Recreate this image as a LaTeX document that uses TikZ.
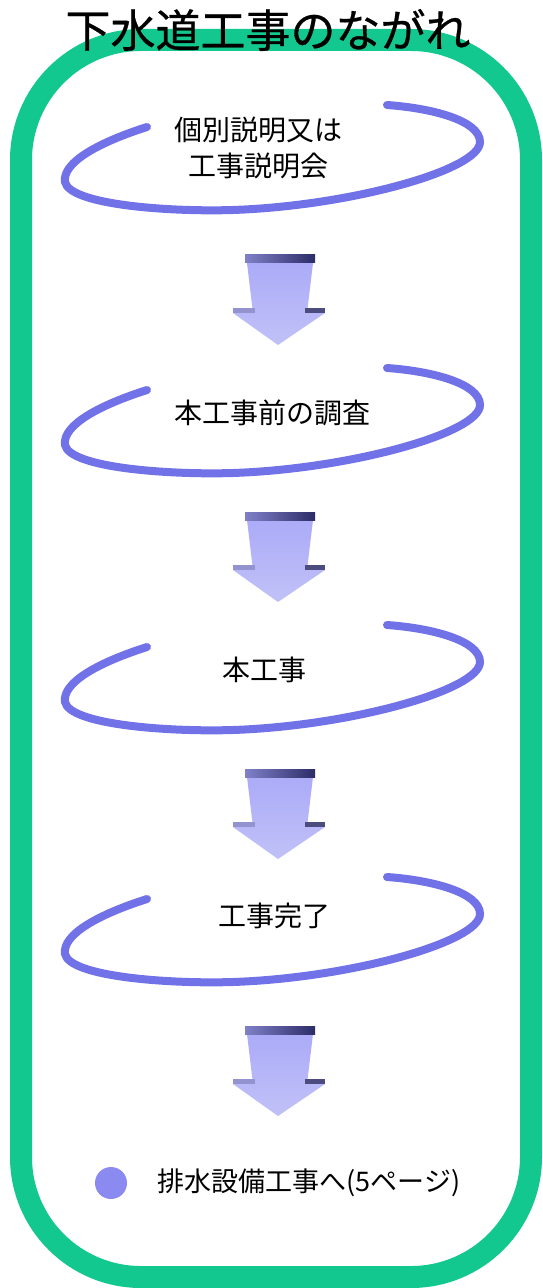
\documentclass[tikz,border=0pt]{standalone}
\usepackage{fontspec}
\setmainfont{Noto Sans CJK JP}
\newfontfamily\headfont[FakeBold=0.6]{Noto Sans CJK JP}
\usetikzlibrary{positioning}

\definecolor{bandgreen}{RGB}{18,200,142}
\definecolor{swirlblue}{RGB}{114,114,232}
\definecolor{arrowlilac}{RGB}{186,186,247}
\definecolor{barlight}{RGB}{128,128,200}
\definecolor{bardark}{RGB}{44,44,104}
\definecolor{bulletblue}{RGB}{138,138,240}

\tikzset{
  greenband/.style={draw=bandgreen, line width=11pt, rounded corners=60pt},
  swirl/.style={draw=swirlblue, line width=4pt, line cap=round},
  steptext/.style={font=\fontsize{14pt}{17pt}\selectfont, align=center, inner sep=0pt},
  flowarrow/.pic={
        \shade[top color=arrowlilac!92!blue, bottom color=arrowlilac!90!white]
            (-32,8) -- (34,8) -- (28,58) -- (46,58) -- (-1,90) -- (-46,58) -- (-26,58) -- cycle;
        \shade[left color=barlight, right color=bardark] (-34,0) rectangle (36,8);
        \fill[barlight!85!white] (-46,53) rectangle (-24,58);
        \fill[bardark!85!white] (26,53) rectangle (46,58);
  }
}

\begin{document}
\begin{tikzpicture}[x=0.5pt, y=-0.5pt]

        \fill[white] (0,0) rectangle (542,1288);
        \useasboundingbox (0,0) rectangle (542,1288);

        \draw[greenband] (21,40) rectangle (531,1277);

        \node[font=\headfont\fontsize{22.5pt}{27pt}\selectfont, inner sep=0pt] (title) at (268,30) {下水道工事のながれ};

        \foreach \c in {150,413,670,922}
            \draw[swirl] (147,\c-23) .. controls (100,\c-8) and (62,\c+12) .. (65,\c+32)
                .. controls (70,\c+55) and (170,\c+62) .. (233,\c+60)
                .. controls (350,\c+56) and (480,\c+20) .. (480,\c-8)
                .. controls (480,\c-30) and (430,\c-42) .. (387,\c-45);

        \node[steptext, text width=200pt] (intro) at (258,148) {個別説明又は\\[1pt]工事説明会};
        \node[steptext] (survey) at (272,413) {本工事前の調査};
        \node[steptext] (mainwork) at (264,670) {本工事};
        \node[steptext] (done) at (274,916) {工事完了};

        \foreach \t in {255,512,769,1026}
            \pic at (279,\t) {flowarrow};

        \fill[bulletblue] (111,1183) circle (8pt) node (bullet) {};
        \node[steptext, font=\fontsize{13.5pt}{16pt}\selectfont, anchor=west] (drain) at (157,1183) {排水設備工事へ(5ページ)};

\end{tikzpicture}
\end{document}
